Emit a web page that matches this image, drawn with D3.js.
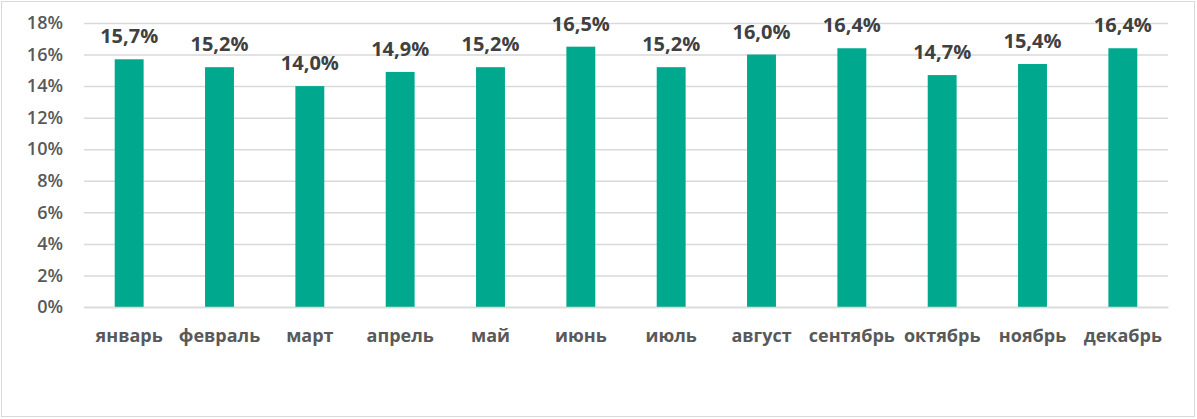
<!DOCTYPE html>
<html><head><meta charset="utf-8">
<script src="https://cdn.jsdelivr.net/npm/d3@7"></script>
<style>body{margin:0;background:#fff}svg{display:block}</style>
</head><body>
<script>
const categories = ["январь","февраль","март","апрель","май","июнь","июль","август","сентябрь","октябрь","ноябрь","декабрь"];
const values = [15.7,15.2,14.0,14.9,15.2,16.5,15.2,16.0,16.4,14.7,15.4,16.4];
const yTicks = [0,2,4,6,8,10,12,14,16,18];

const W=1197,H=419;
const m={left:84,right:1168,top:23,bottom:307};
const svg=d3.select("body").append("svg").attr("width",W).attr("height",H);
svg.append("rect").attr("x",1.5).attr("y",1.5).attr("width",W-4).attr("height",H-4)
  .attr("fill","#fff").attr("stroke","#d9d9d9").attr("stroke-width",1);
const x=d3.scaleBand().domain(categories).range([m.left,m.right]).paddingInner(0.68).paddingOuter(0.34);
const y=d3.scaleLinear().domain([0,18]).range([m.bottom,m.top]);
const font="'Open Sans', sans-serif";
const yAxis=svg.append("g").attr("transform",`translate(${m.left},0)`)
  .call(d3.axisLeft(y).tickValues(yTicks).tickFormat(d=>d+"%").tickSize(-(m.right-m.left)).tickPadding(21));
yAxis.select(".domain").remove();
yAxis.selectAll(".tick line").attr("stroke","#d9d9d9").attr("stroke-width",1.5);
yAxis.selectAll(".tick text").attr("fill","#595959").attr("font-family",font).attr("font-size","18px").attr("font-weight","600");
svg.append("g").selectAll("rect").data(values).join("rect")
  .attr("x",(d,i)=>x(categories[i])).attr("width",x.bandwidth())
  .attr("y",d=>y(d)).attr("height",d=>y(0)-y(d)).attr("fill","#00A88E");
const xAxis=svg.append("g").attr("transform",`translate(0,${m.bottom})`)
  .call(d3.axisBottom(x).tickSize(0).tickPadding(22));
xAxis.select(".domain").attr("stroke","#d9d9d9").attr("stroke-width",1.5);
xAxis.selectAll(".tick text").attr("fill","#595959").attr("font-family",font).attr("font-size","18px").attr("font-weight","700");
svg.append("g").selectAll("text").data(values).join("text")
  .attr("x",(d,i)=>x(categories[i])+x.bandwidth()/2).attr("y",d=>y(d)-16)
  .attr("text-anchor","middle").attr("fill","#404040").attr("font-family",font)
  .attr("font-size","20px").attr("font-weight","700")
  .text(d=>d.toFixed(1).replace(".",",")+"%");
</script>
</body></html>
